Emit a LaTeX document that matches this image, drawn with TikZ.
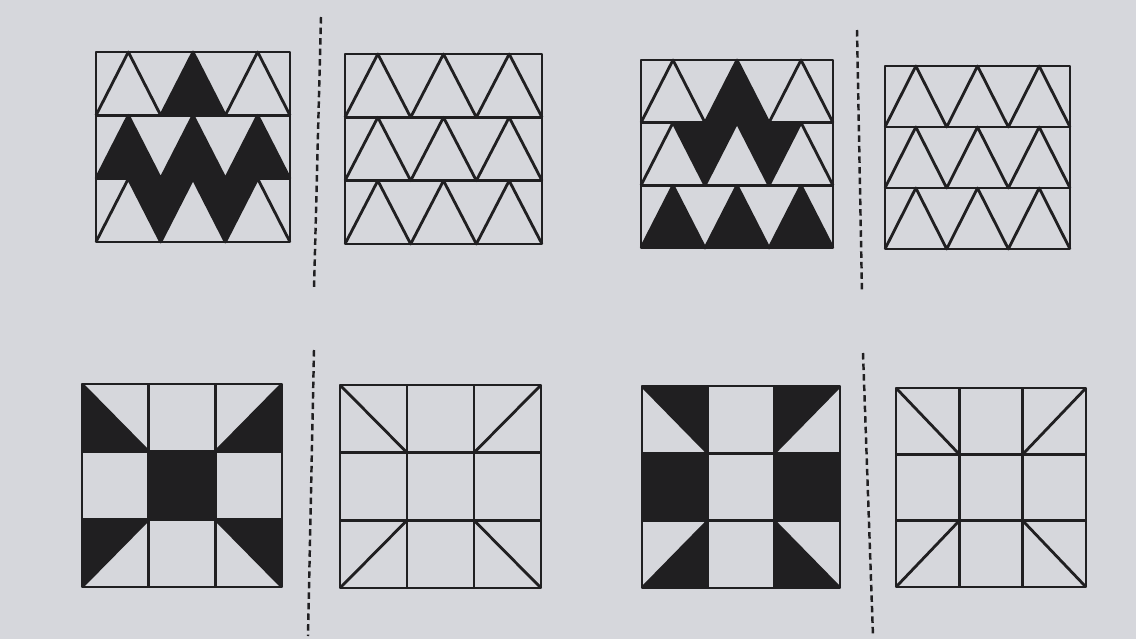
\documentclass[tikz,border=0pt]{standalone}
\usepackage[dvipsnames]{xcolor}
\definecolor{paper}{RGB}{214,215,220}
\definecolor{ink}{RGB}{32,31,33}
\usepackage{tikz}
\tikzset{
  gridline/.style={ink, line width=1.6pt, line join=round},
  cutline/.style={ink, line width=1.4pt, dash pattern=on 3.7pt off 2.3pt},
}

\begin{document}
\begin{tikzpicture}[x=0.02cm, y=-0.02cm]
      \fill[paper] (0,0) rectangle (1136,639);
      % dashed cut lines
      \coordinate (c1) at (321,17);  \coordinate (d1) at (314,290);
      \coordinate (c2) at (857,30);  \coordinate (d2) at (862,293);
      \coordinate (c3) at (314,350); \coordinate (d3) at (308,636);
      \coordinate (c4) at (863,353); \coordinate (d4) at (873,636);
      \draw[cutline] foreach \s in {1,2,3,4}{(c\s) -- (d\s)};
      % top row: triangle blocks
      \begin{scope}[shift={(96,242)}, x={194/6*0.02cm}, y={190/3*0.02cm}]
        \fill[ink] (2,2) -- (3,3) -- (4,2) -- cycle;
        \fill[ink] foreach \j in {0,1,2}{(2*\j,1) -- (2*\j+1,2) -- (2*\j+2,1) -- cycle};
        \fill[ink] foreach \j in {0,1}{(2*\j+1,1) -- (2*\j+2,0) -- (2*\j+3,1) -- cycle};
        \draw[gridline] (0,0) rectangle (6,3) (0,1) -- (6,1) (0,2) -- (6,2);
        \draw[gridline] foreach \k in {0,1,2}{(0,\k) foreach \i in {1,...,6}{-- (\i,{\k+mod(\i,2)})}};
      \end{scope}
      \begin{scope}[shift={(345,244)}, x={197/6*0.02cm}, y={190/3*0.02cm}]
        \draw[gridline] (0,0) rectangle (6,3) (0,1) -- (6,1) (0,2) -- (6,2);
        \draw[gridline] foreach \k in {0,1,2}{(0,\k) foreach \i in {1,...,6}{-- (\i,{\k+mod(\i,2)})}};
      \end{scope}
      \begin{scope}[shift={(641,248)}, x={192/6*0.02cm}, y={188/3*0.02cm}]
        \fill[ink] (2,2) -- (3,3) -- (4,2) -- cycle;
        \fill[ink] foreach \j in {0,1}{(2*\j+1,2) -- (2*\j+2,1) -- (2*\j+3,2) -- cycle};
        \fill[ink] foreach \j in {0,1,2}{(2*\j,0) -- (2*\j+1,1) -- (2*\j+2,0) -- cycle};
        \draw[gridline] (0,0) rectangle (6,3) (0,1) -- (6,1) (0,2) -- (6,2);
        \draw[gridline] foreach \k in {0,1,2}{(0,\k) foreach \i in {1,...,6}{-- (\i,{\k+mod(\i,2)})}};
      \end{scope}
      \begin{scope}[shift={(885,249)}, x={185/6*0.02cm}, y={183/3*0.02cm}]
        \draw[gridline] (0,0) rectangle (6,3) (0,1) -- (6,1) (0,2) -- (6,2);
        \draw[gridline] foreach \k in {0,1,2}{(0,\k) foreach \i in {1,...,6}{-- (\i,{\k+mod(\i,2)})}};
      \end{scope}
      % bottom row: square blocks
      \begin{scope}[shift={(82,587)}, x={200/3*0.02cm}, y={203/3*0.02cm}]
        \fill[ink] (0,3) -- (0,2) -- (1,2) -- cycle (3,3) -- (3,2) -- (2,2) -- cycle
          (1,1) rectangle (2,2) (0,0) -- (0,1) -- (1,1) -- cycle (3,0) -- (3,1) -- (2,1) -- cycle;
        \draw[gridline] (0,0) rectangle (3,3) foreach \i in {1,2}{(\i,0) -- (\i,3) (0,\i) -- (3,\i)};
        \draw[gridline] (0,3) -- (1,2) (3,3) -- (2,2) (0,0) -- (1,1) (3,0) -- (2,1);
      \end{scope}
      \begin{scope}[shift={(340,588)}, x={201/3*0.02cm}, y={203/3*0.02cm}]
        \draw[gridline] (0,0) rectangle (3,3) foreach \i in {1,2}{(\i,0) -- (\i,3) (0,\i) -- (3,\i)};
        \draw[gridline] (0,3) -- (1,2) (3,3) -- (2,2) (0,0) -- (1,1) (3,0) -- (2,1);
      \end{scope}
      \begin{scope}[shift={(642,588)}, x={198/3*0.02cm}, y={202/3*0.02cm}]
        \fill[ink] (0,3) -- (1,3) -- (1,2) -- cycle (3,3) -- (2,3) -- (2,2) -- cycle
          (0,1) rectangle (1,2) (2,1) rectangle (3,2)
          (0,0) -- (1,0) -- (1,1) -- cycle (3,0) -- (2,0) -- (2,1) -- cycle;
        \draw[gridline] (0,0) rectangle (3,3) foreach \i in {1,2}{(\i,0) -- (\i,3) (0,\i) -- (3,\i)};
        \draw[gridline] (0,3) -- (1,2) (3,3) -- (2,2) (0,0) -- (1,1) (3,0) -- (2,1);
      \end{scope}
      \begin{scope}[shift={(896,587)}, x={190/3*0.02cm}, y={199/3*0.02cm}]
        \draw[gridline] (0,0) rectangle (3,3) foreach \i in {1,2}{(\i,0) -- (\i,3) (0,\i) -- (3,\i)};
        \draw[gridline] (0,3) -- (1,2) (3,3) -- (2,2) (0,0) -- (1,1) (3,0) -- (2,1);
      \end{scope}
    \end{tikzpicture}
\end{document}
